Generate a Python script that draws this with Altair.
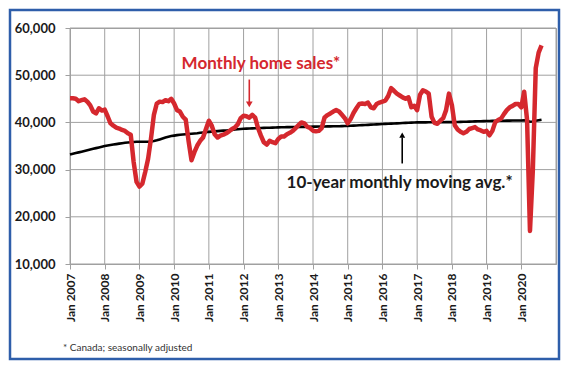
import altair as alt
import pandas as pd

# Monthly home sales (Canada, seasonally adjusted), Jan 2007 - Aug 2020
sales = [
    # 2007
    45100, 45100, 45000, 44500, 44700, 44900, 44400, 43600, 42300, 41900, 43000, 42500,
    # 2008
    42700, 41300, 39800, 39300, 38900, 38700, 38400, 38200, 37700, 37400, 31600, 27400,
    # 2009
    26400, 27000, 29500, 32300, 36600, 41600, 44000, 44400, 44300, 44700, 44500, 45000,
    # 2010
    44000, 42600, 42300, 41200, 40600, 36000, 32000, 33700, 35100, 36100, 36800, 38600,
    # 2011
    40350, 39300, 37500, 36800, 37200, 37400, 37700, 38100, 38600, 38900, 39600, 40900,
    # 2012
    41400, 41300, 41000, 41600, 41000, 38800, 37200, 35800, 35300, 36100, 35800, 35600,
    # 2013
    36500, 37000, 37000, 37500, 37800, 38200, 38800, 39400, 40000, 39800, 39100, 38800,
    # 2014
    38240, 38100, 38200, 38800, 41050, 41550, 41900, 42300, 42600, 42300, 41600, 40900,
    # 2015
    39800, 40700, 42000, 43000, 43900, 44000, 43900, 44200, 43200, 43000, 43900, 44200,
    # 2016
    44400, 44600, 45600, 47250, 46700, 46100, 45700, 45300, 45000, 45300, 43200, 43500,
    # 2017
    42600, 45850, 46800, 46550, 46100, 41200, 39900, 39700, 40350, 40900, 42600, 46100,
    # 2018
    43700, 39400, 38500, 38000, 37700, 38000, 38600, 38800, 39000, 38500, 38300, 38000,
    # 2019
    38200, 37250, 38200, 40050, 40500, 40800, 41750, 42600, 43200, 43500, 43900, 43900,
    # 2020
    43200, 46500, 40500, 17000, 30000, 51500, 54800, 56300,
]

# 10-year monthly moving average
moving_avg = [
    # 2007
    33200, 33350, 33500, 33650, 33800, 33950, 34100, 34250, 34400, 34550, 34700, 34850,
    # 2008
    35000, 35100, 35200, 35300, 35400, 35500, 35600, 35700, 35750, 35800, 35850, 35900,
    # 2009
    35900, 35900, 35900, 35900, 35950, 36050, 36200, 36400, 36600, 36800, 36950, 37100,
    # 2010
    37200, 37300, 37400, 37450, 37500, 37550, 37600, 37650, 37700, 37800, 37850, 37900,
    # 2011
    38000, 38050, 38100, 38150, 38200, 38250, 38300, 38350, 38400, 38500, 38550, 38600,
    # 2012
    38650, 38680, 38700, 38730, 38750, 38780, 38800, 38830, 38860, 38880, 38900, 38930,
    # 2013
    38950, 38960, 38970, 38990, 39000, 39010, 39020, 39040, 39050, 39060, 39080, 39090,
    # 2014
    39100, 39110, 39120, 39130, 39140, 39150, 39160, 39180, 39190, 39200, 39220, 39230,
    # 2015
    39250, 39280, 39320, 39350, 39380, 39420, 39450, 39480, 39520, 39550, 39580, 39620,
    # 2016
    39650, 39680, 39710, 39740, 39770, 39800, 39830, 39860, 39890, 39920, 39950, 39980,
    # 2017
    40000, 40000, 40010, 40010, 40020, 40020, 40030, 40030, 40040, 40040, 40050, 40050,
    # 2018
    40050, 40070, 40090, 40110, 40130, 40150, 40170, 40190, 40210, 40230, 40250, 40280,
    # 2019
    40300, 40310, 40320, 40330, 40340, 40350, 40360, 40370, 40380, 40390, 40400, 40400,
    # 2020
    40400, 40420, 40350, 40150, 40200, 40350, 40450, 40550,
]

tick_years = list(range(2007, 2021))
grid_years = list(range(2007, 2022))
y_ticks = [10000, 20000, 30000, 40000, 50000, 60000]

months = pd.date_range("2007-01-01", periods=len(sales), freq="MS")
df = pd.DataFrame({
    "t": months.year + (months.month - 1) / 12.0,
    "v": sales,
    "avg": moving_avg,
})

RED = "#D5282E"
GRID = "#A0A0A0"
FONT = "Lato"
TXT = "#1A1A1A"

xs = alt.Scale(domain=[2007, 2021], nice=False, zero=False)
ys = alt.Scale(domain=[10000, 60000], nice=False, zero=False)

xaxis = alt.Axis(
    values=tick_years, labelExpr="'Jan ' + datum.value", labelAngle=-90,
    labelFont=FONT, labelFontWeight="bold", labelFontSize=12, labelColor=TXT,
    tickColor=GRID, tickSize=5, domainColor=GRID, grid=False,
    labelPadding=4, title=None,
)
yaxis = alt.Axis(
    values=y_ticks, labelExpr="format(datum.value, ',.0f')", labelFont=FONT,
    labelFontWeight="bold", labelFontSize=13, labelColor=TXT, tickColor=GRID,
    tickSize=5, domain=False, grid=False, labelPadding=10, title=None,
)


def X(f):
    return alt.X(f"{f}:Q", scale=xs, axis=xaxis)


def Y(f):
    return alt.Y(f"{f}:Q", scale=ys, axis=yaxis)


# gridlines drawn from the tick arrays
vgrid = alt.Chart(pd.DataFrame({"t": grid_years})).mark_rule(
    color=GRID, strokeWidth=1
).encode(x=X("t"))
hgrid = alt.Chart(pd.DataFrame({"v": y_ticks})).mark_rule(
    color=GRID, strokeWidth=1
).encode(y=Y("v"))

base = alt.Chart(df)
avg_line = base.mark_line(color="black", strokeWidth=2.6).encode(x=X("t"), y=Y("avg"))
sales_line = base.mark_line(color=RED, strokeWidth=4.5, strokeJoin="round").encode(
    x=X("t"), y=Y("v")
)

red_label = alt.Chart(pd.DataFrame({"t": [2012.5], "v": [51250], "txt": ["Monthly home sales*"]})).mark_text(
    align="center", baseline="alphabetic", font=FONT, fontWeight="bold", fontSize=17, color=RED
).encode(x=X("t"), y=Y("v"), text="txt:N")

black_label = alt.Chart(pd.DataFrame({"t": [2013.24], "v": [26050], "txt": ["10-year monthly moving avg.*"]})).mark_text(
    align="left", baseline="alphabetic", font=FONT, fontWeight="bold", fontSize=17, color=TXT
).encode(x=X("t"), y=Y("v"), text="txt:N")

red_arrow = alt.Chart(pd.DataFrame({"t": [2012.165], "v": [49080], "v2": [44300]})).mark_rule(
    color=RED, strokeWidth=1.6
).encode(x=X("t"), y=Y("v"), y2="v2:Q")
red_head = alt.Chart(pd.DataFrame({"t": [2012.165], "v": [43800]})).mark_point(
    shape="triangle-down", filled=True, size=45, color=RED, opacity=1
).encode(x=X("t"), y=Y("v"))

black_arrow = alt.Chart(pd.DataFrame({"t": [2016.57], "v": [31300], "v2": [36800]})).mark_rule(
    color="black", strokeWidth=1.6
).encode(x=X("t"), y=Y("v"), y2="v2:Q")
black_head = alt.Chart(pd.DataFrame({"t": [2016.57], "v": [37300]})).mark_point(
    shape="triangle-up", filled=True, size=35, color="black", opacity=1
).encode(x=X("t"), y=Y("v"))

footnote = alt.Chart(pd.DataFrame({"txt": ["* Canada; seasonally adjusted"]})).mark_text(
    align="left", baseline="alphabetic", font=FONT, fontSize=10, color="#333333"
).encode(x=alt.value(-7), y=alt.value(323), text="txt:N")

frame = alt.Chart(pd.DataFrame({"k": [0]})).mark_rect(
    filled=False, stroke="#2E5EAA", strokeWidth=2.5
).encode(x=alt.value(-60), x2=alt.value(489), y=alt.value(-18), y2=alt.value(331))

chart = alt.layer(
    vgrid, hgrid, avg_line, sales_line, red_label, black_label,
    red_arrow, red_head, black_arrow, black_head, footnote, frame,
).properties(
    width=486, height=236,
    autosize=alt.AutoSizeParams(type="none"),
    padding={"left": 62, "top": 20, "right": 5, "bottom": 99},
).configure_view(stroke=GRID, strokeWidth=1)

chart.save("out.html", embed_options={"renderer": "svg", "actions": False})
